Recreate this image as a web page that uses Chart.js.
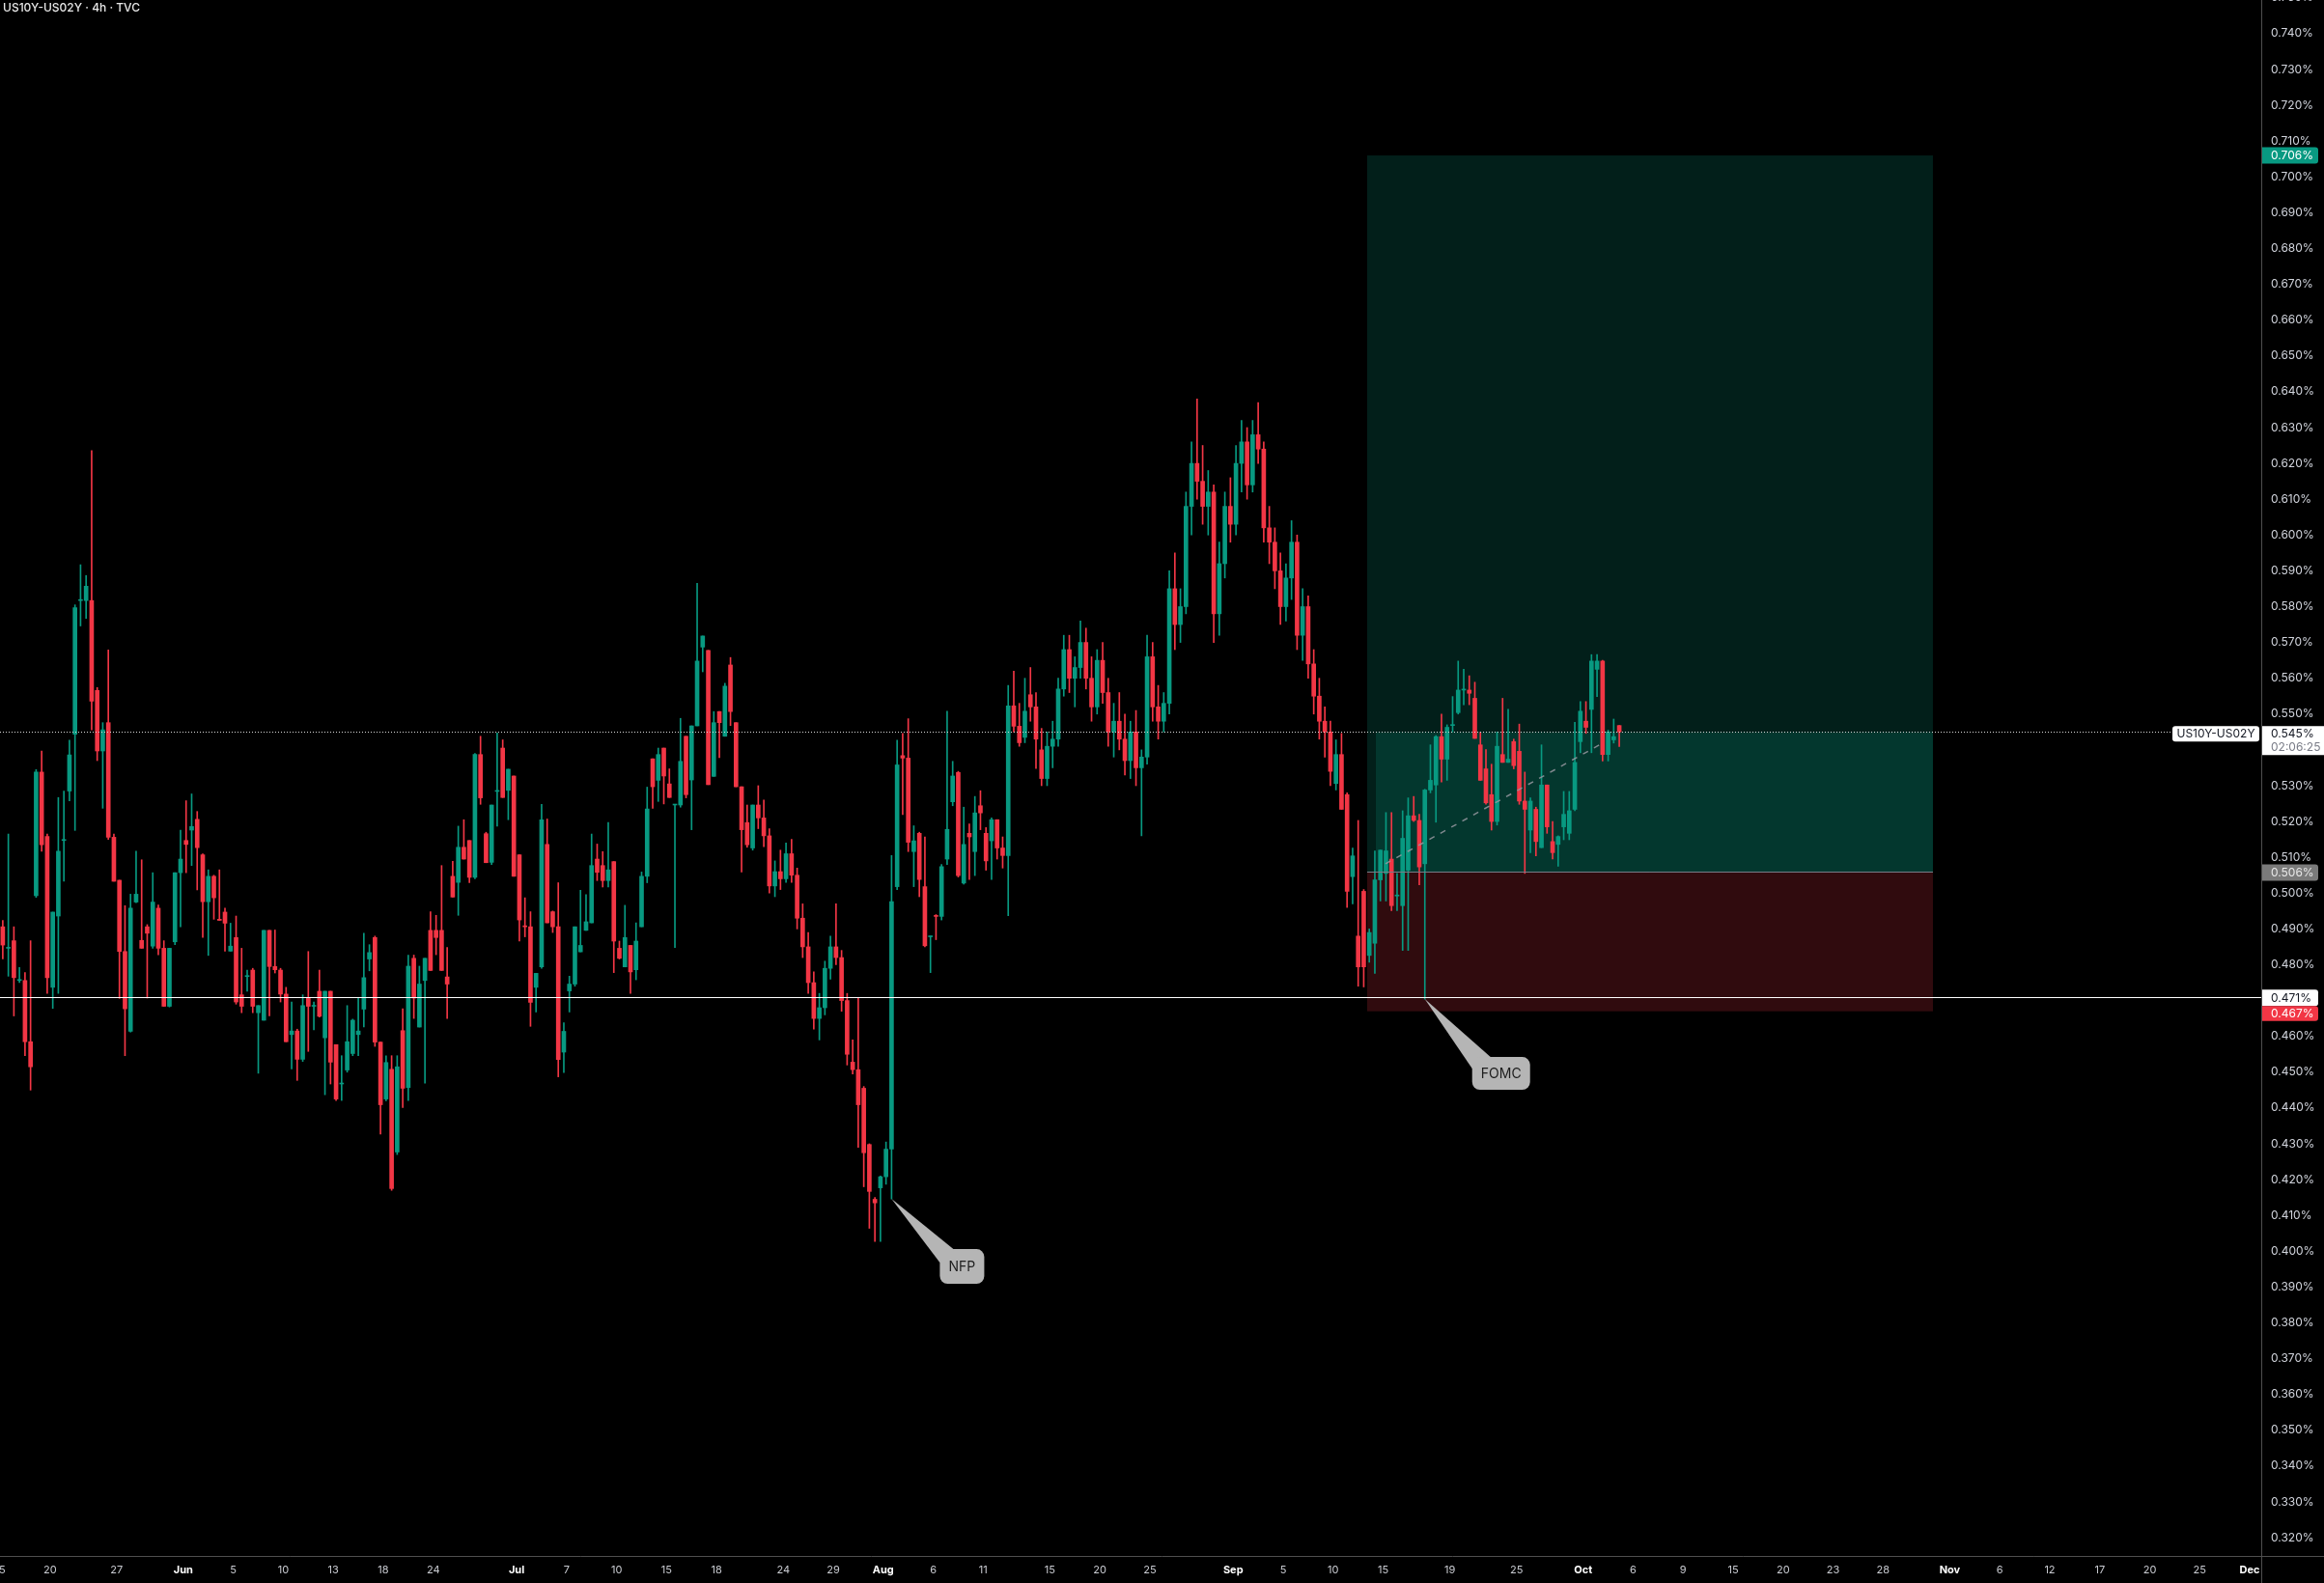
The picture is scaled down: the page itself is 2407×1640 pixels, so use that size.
<!DOCTYPE html>
<html>
<head>
<meta charset="utf-8">
<title>US10Y-US02Y · 4h · TVC</title>
<script src="https://cdn.jsdelivr.net/npm/chart.js@4.4.1/dist/chart.umd.min.js"></script>
<style>
html,body{margin:0;padding:0;background:#000;overflow:hidden}
canvas{display:block}
</style>
</head>
<body>
<canvas id="chart" width="2407" height="1640"></canvas>
<script>
// Spread values in thousandths of a percent (545 = 0.545%), one candle per 8 hours
const opens = [
490.6,484.6,486.7,475.6,475.6,458.5,499.3,533.8,515.8,473.7,
493.6,514.7,528.5,544.4,581.7,581.7,581.7,556.6,539.7,547.6,
515.6,503.6,483.7,461.4,497.5,486.8,490.6,485.2,495.8,484.6,
468.4,486.4,505.7,514.7,517.6,520.6,510.7,497.6,504.7,492.7,
494.7,483.8,487.6,471.6,476.7,478.5,466.6,464.5,489.6,479.5,
478.5,471.8,460.5,461.5,453.6,470.6,468.4,472.6,459.6,472.6,
457.7,446.7,450.6,455.2,460.5,467.6,481.6,487.6,458.4,442.5,
450.8,427.7,461.6,445.7,481.8,462.6,475.6,489.6,489.6,489.6,
476.6,504.7,503.0,512.8,514.7,504.4,538.7,516.6,508.6,528.4,
540.5,528.7,532.7,510.7,490.8,490.6,473.7,479.4,513.6,494.8,
490.6,455.6,472.7,474.6,483.6,489.6,491.7,509.5,507.7,503.5,
508.8,484.6,479.4,485.4,478.6,490.6,504.7,537.5,531.5,540.5,
530.5,524.6,524.6,543.8,531.6,546.7,568.7,567.8,532.6,550.7,
543.8,563.7,547.6,529.7,519.7,512.6,524.6,521,516,502,
506,504,511,505,493,485,475,465,468,479,
485,482,470,452.8,450.7,445.5,429.8,414.5,417.7,420.8,
428.5,501.8,538.4,537.7,511.6,516.7,501.8,487.8,493.7,493.5,
509.5,525.5,533.7,502.8,516.7,511.6,524.4,516.7,514.6,520.5,
512.6,510.5,552.3,546.6,543.5,555.4,552,540,532,541,
543,557,568,560,563,570,560,552,565,556,
545,548,543,537,545,535,538,566,552,548,
553,585,575,580,608,620,615,608,612,578,
592,608,603,620,626,614,628,624,602,598,
590,580,588,598,572,580,564,555,548,545,
530.6,538.7,527.5,504.6,488,500.5,482.6,486,503.7,505.5,
509.5,499.2,496.5,506.4,521.6,520.3,508.2,528.8,530.2,543.7,
537.4,546.8,550.4,556.7,556.7,554.4,541.4,534.7,527.5,520,
538.7,536.5,542.3,539.6,525.7,517.6,523.4,512.7,530.2,514.4,
513.6,518.5,516.7,523.4,542.3,548,551.3,562.5,564.8,538.7,
542.8,546.8
];
const highs = [
492.4,516.5,490.6,479.2,477.8,486.7,534.5,539.7,516.5,494.7,
526.7,528.5,542.7,580.5,591.7,588.7,623.6,557.4,547.6,567.9,
516.5,503.6,496.5,499.7,511.7,509.3,491.2,505.7,496.7,486.7,
484.6,505.7,517.6,525.8,527.7,522.8,511.0,506.5,505.0,506.5,
495.8,491.6,493.6,484.6,478.5,479.0,468.6,489.6,489.6,489.7,
479.0,473.7,469.6,462.0,471.6,483.7,469.6,478.5,472.6,472.6,
457.7,454.6,468.6,464.8,470.6,488.8,485.6,488.0,458.4,454.6,
454.6,454.6,467.7,482.7,482.7,479.6,481.8,494.8,493.8,507.7,
484.8,508.9,518.7,520.5,514.7,539.0,543.8,517.0,524.6,544.7,
542.8,534.6,532.7,510.7,498.7,494.8,477.6,524.8,520.7,495.0,
502.9,463.8,476.8,490.6,500.8,499.6,516.5,513.7,511.6,519.7,
508.8,486.6,496.6,485.4,491.7,505.9,529.6,537.5,540.5,540.5,
534.7,524.6,548.8,543.8,546.7,586.5,571.8,567.8,550.7,550.7,
558.6,565.8,547.6,529.7,524.6,524.6,530,526,518,509,
512,514,515,507,497,489,478,472,481,488,
497,484,472,459,470.8,446,430,415,421,430.5,
510.5,542.7,544.6,548.7,518.8,517,515.7,488,494,508,
550.8,536.8,534,524,519.3,527,528.6,518.3,521,520.5,
515.7,558,562,553,560,563,556,546,545,548,
560,572,572,566,576,574,566,568,570,560,
553,556,550,548,551,540,572,570,558,556,
590,595,585,612,626,638,625,618,614,598,
612,616,625,632,630,632,637,626,608,602,
595,592,604,600,585,583,568,560,552,548,
542.8,544.6,528,512.6,520.3,501,490,511.8,512,522.5,
522.5,505.5,523,526.6,527,522,529,541.4,544,550,
547,554.9,564.8,562.5,560.7,558.9,545,540.1,536,545,
554.4,551.3,543,547.2,533.8,526.6,524,541.4,530.2,520,
516,528.4,528.4,547.7,553.5,553.5,566.6,566.6,565,545.5,
548.6,546.8
];
const lows = [
481.6,476.8,465.7,475.0,454.6,445.0,498.8,511.7,472.0,467.8,
472.0,503.3,525.8,517.5,574.6,576.7,545.6,537.0,523.7,515.0,
503.3,470.6,454.6,461.2,497.3,484.6,470.7,484.6,482.8,468.4,
468.2,485.6,490.6,505.7,507.7,500.9,487.6,482.6,492.7,492.4,
483.8,483.8,469.0,466.6,472.6,466.6,449.7,464.5,465.7,477.7,
469.6,458.5,450.9,447.7,453.0,455.8,461.8,465.4,443.7,446.7,
442.1,442.1,450.0,454.6,454.6,462.6,478.3,457.2,432.7,442.0,
417.0,427.0,440.1,442.1,465.0,462.6,446.9,478.4,482.8,478.4,
465.0,498.9,493.8,509.5,502.9,504.0,524.8,508.5,508.0,518.7,
526.7,520.5,504.7,486.6,487.8,462.8,466.8,479.0,491.7,489.0,
448.7,449.9,466.8,474.0,483.6,489.6,491.7,503.5,501.7,501.7,
477.8,481.6,479.4,472.0,475.8,490.6,502.9,523.7,525.6,524.9,
526.7,484.8,524.0,526.6,517.7,546.7,561.8,530.3,532.6,537.8,
543.8,546.8,529.7,505.9,512.8,512.0,518,513,500,499,
501,503,503,490,482,472,462,459,466,476,
480,467,452,449.5,429,418,406.4,402.7,402.7,418.7,
414.6,501,521.9,511.6,501.8,499,485,477.8,487,492.5,
508,524.4,504.5,502.5,503.8,504.9,517.7,506.4,503.8,509.5,
507,493.7,545,541,542,548,534.8,530,530,535,
541,555,556,552,560,557,548,550,553,541,
538,540,533,532,530,516,536,548,543,545,
550,568,570,578,600,610,603,600,570,572,
588,598,600,612,610,612,620,598,592,585,
575,576,582,568,565,560,550,543,538,530,
528.8,523.4,496,497,474,473.8,480.7,477.6,497.8,497.8,
495.1,495.1,484,484,520,502.3,470.4,528,519.8,531,
531.5,545,550,552.6,552.6,543.2,531.5,524.8,517.6,519,
536.5,537,534.7,524.8,505.5,511.3,510.4,512.7,516.7,509.5,
507.5,514.9,514.9,523,539.2,544.6,539.2,554.9,536.9,536.9,
541.9,540.9
];
const closes = [
485.5,484.6,476.4,475.6,458.5,451.5,533.8,513.5,476.4,494.7,
511.7,514.7,538.6,579.7,581.7,585.7,553.6,539.7,545.6,515.6,
503.3,483.7,467.7,495.8,499.7,484.6,488.8,497.5,484.6,468.4,
484.6,505.7,509.5,513.6,518.6,512.7,497.6,504.7,498.7,492.4,
491.6,485.2,469.6,468.4,476.7,468.4,468.6,489.6,479.5,478.6,
471.8,458.5,461.5,453.6,468.6,468.4,468.6,465.6,472.6,452.8,
442.5,446.7,458.5,464.5,461.5,476.4,483.4,458.4,440.9,452.7,
417.5,451.5,445.5,479.6,470.7,474.6,481.8,478.4,487.6,478.4,
474.6,498.9,512.8,509.5,504.4,538.7,526.6,508.5,524.6,528.5,
526.7,534.6,504.7,492.5,490.6,469.5,477.6,520.5,491.7,490.6,
453.5,461.4,474.6,490.6,485.4,492.0,507.7,505.8,503.5,506.5,
486.6,481.8,487.6,478.0,486.6,504.7,523.5,529.7,538.7,532.7,
526.7,524.6,536.8,527.5,546.7,564.8,571.8,530.3,547.6,547.6,
557.8,550.7,529.7,517.7,513.5,524.6,521,516,502,506,
504,511,505,493,485,475,465,468,479,485,
482,470,455,450.7,440.9,427.5,416.7,413.5,420.8,428.5,
497.6,535.8,537.7,514.2,514.6,503.8,485.3,487.8,493.5,507.4,
517.8,532.7,504.9,513.6,515.7,522.4,522.4,509,520.5,512.6,
510.5,552.3,546.6,542,550.8,552,543,532,541,543,
557,568,560,563,570,560,552,565,556,545,
548,543,537,545,535,538,566,552,548,553,
585,575,580,608,620,615,608,612,578,592,
608,603,620,626,614,628,624,602,598,590,
580,588,598,572,580,564,555,548,545,534,
538.7,523.4,500.5,510.4,479.4,479.4,489,503.7,512,511.8,
496.5,499.2,515.3,521.6,520.3,507.3,528.8,531.5,543.7,537.4,
546.3,546.8,556.7,556.7,555.8,543.2,531.5,525.2,520,541,
536.5,537.4,535.6,525.7,523.4,525.7,514.4,530.2,518.5,511.3,
515.8,522,523,536.5,550.8,546.3,564.8,564.8,538.7,545,
543.7,545
];

// Time axis: trading-day offsets from 2 Sep and their labels
const tickDays = [-74,-71,-67,-63,-60,-57,-54,-51,-48,-43,-40,-37,-34,-31,-27,-24,-21,-18,-15,-11,-8,-5,
                  0,3,6,9,13,17,21,24,27,30,33,36,39,43,46,49,52,55,58,61];
const tickLabels = ['15','20','27','Jun','5','10','13','18','24','Jul','7','10','15','18','24','29','Aug','6','11','15','20','25',
                    'Sep','5','10','15','19','25','Oct','6','9','15','20','23','28','Nov','6','12','17','20','25','Dec'];
const monthLabels = ['Jun','Jul','Aug','Sep','Oct','Nov','Dec'];

// Position tool levels and markers
const targetLevel = 706, entryLevel = 506, stopLevel = 467, supportLevel = 471, lastPrice = 545;
const positionDays = [8.04, 41.99];      // start / end of the long-position box
const positionLiveStart = 8.56;
const trendDash = [[9.14, 508.2], [22.06, 541.6]];
const nfpCandle = 160, fomcCandle = 256;

const FIRST_DAY = -73.8333, STEP_DAY = 1/3;
const X_MIN = -74, X_MAX = 61.69, Y_MIN = 314.9, Y_MAX = 749.4;
const UP = '#089981', DOWN = '#F23645';
const FONT = 'Inter, "Liberation Sans", Arial, sans-serif';

const xsOf = i => FIRST_DAY + i * STEP_DAY;
const candleColors = closes.map((c, i) => c >= opens[i] ? UP : DOWN);
const bodyData = closes.map((c, i) => ({x: xsOf(i), y: [opens[i], c]}));
const wickData = closes.map((c, i) => ({x: xsOf(i), y: [Math.min(lows[i], opens[i], c), Math.max(highs[i], opens[i], c)]}));

const fmt = v => (v / 1000).toFixed(3) + '%';

function rr(ctx, x, y, w, h, r) {
  ctx.beginPath();
  if (ctx.roundRect) ctx.roundRect(x, y, w, h, r); else ctx.rect(x, y, w, h);
}

// pixel extents (above, below) of the price-axis badges, used to hide overlapped tick labels
const badgeBoxes = [[targetLevel, 9, 9], [lastPrice, 7, 24], [entryLevel, 9, 9], [supportLevel, 8, 9], [stopLevel, 2, 11]];

const overlay = {
  id: 'overlay',
  beforeDraw(chart) {
    const c = chart.ctx; c.save(); c.fillStyle = '#000'; c.fillRect(0, 0, chart.width, chart.height); c.restore();
  },
  beforeDatasetsDraw(chart) {
    const {ctx, chartArea: a, scales: {x, y}} = chart;
    ctx.save();
    ctx.beginPath(); ctx.rect(a.left, a.top, a.right - a.left, a.bottom - a.top); ctx.clip();
    const x0 = x.getPixelForValue(positionDays[0]), x1 = x.getPixelForValue(positionDays[1]);
    const xn = x.getPixelForValue(positionLiveStart);
    const yT = y.getPixelForValue(targetLevel), yE = y.getPixelForValue(entryLevel);
    const yS = y.getPixelForValue(stopLevel), yL = y.getPixelForValue(lastPrice);
    ctx.fillStyle = 'rgba(8,153,129,0.2)';
    ctx.fillRect(x0, yT, x1 - x0, yE - yT);
    ctx.fillRect(xn, yL, x1 - xn, yE - yL);
    ctx.fillStyle = 'rgba(242,54,69,0.2)';
    ctx.fillRect(x0, yE, x1 - x0, yS - yE);
    ctx.restore();
  },
  afterDatasetsDraw(chart) {
    const {ctx, chartArea: a, scales: {x, y}} = chart;
    ctx.save();
    ctx.beginPath(); ctx.rect(a.left, a.top, a.right - a.left, a.bottom - a.top); ctx.clip();
    const x0 = x.getPixelForValue(positionDays[0]), x1 = x.getPixelForValue(positionDays[1]);
    const yE = Math.round(y.getPixelForValue(entryLevel)) + 0.5;
    ctx.strokeStyle = '#787b86'; ctx.lineWidth = 1;
    ctx.beginPath(); ctx.moveTo(x0, yE); ctx.lineTo(x1, yE); ctx.stroke();
    ctx.strokeStyle = 'rgba(150,152,160,0.85)'; ctx.lineWidth = 1.5; ctx.setLineDash([6, 7]);
    ctx.beginPath();
    ctx.moveTo(x.getPixelForValue(trendDash[0][0]), y.getPixelForValue(trendDash[0][1]));
    ctx.lineTo(x.getPixelForValue(trendDash[1][0]), y.getPixelForValue(trendDash[1][1]));
    ctx.stroke();
    ctx.setLineDash([]);
    const yS = Math.round(y.getPixelForValue(supportLevel)) + 0.5;
    ctx.strokeStyle = '#ffffff'; ctx.lineWidth = 1.2;
    ctx.beginPath(); ctx.moveTo(a.left, yS); ctx.lineTo(a.right, yS); ctx.stroke();
    const yL = Math.round(y.getPixelForValue(lastPrice)) + 0.5;
    ctx.strokeStyle = '#d8d8d8'; ctx.lineWidth = 1; ctx.setLineDash([1, 2]);
    ctx.beginPath(); ctx.moveTo(a.left, yL); ctx.lineTo(a.right - 92, yL); ctx.stroke();
    ctx.restore();
  },
  afterDraw(chart) {
    const {ctx, chartArea: a, scales: {x, y}} = chart;
    ctx.save();
    ctx.strokeStyle = '#4e4e4e'; ctx.lineWidth = 1;
    ctx.beginPath(); ctx.moveTo(a.right + 0.5, 0); ctx.lineTo(a.right + 0.5, chart.height); ctx.stroke();
    ctx.beginPath(); ctx.moveTo(0, a.bottom + 0.5); ctx.lineTo(chart.width, a.bottom + 0.5); ctx.stroke();

    ctx.fillStyle = '#e6e6e6'; ctx.font = '500 12px ' + FONT; ctx.textBaseline = 'middle'; ctx.textAlign = 'left';
    ctx.fillText('US10Y-US02Y · 4h · TVC', 3, 8);

    const bx = a.right + 1, bw = 58, tx = a.right + 10;
    ctx.font = '12px ' + FONT;
    function badge(v, bg, fg, top, h, w) {
      const py = y.getPixelForValue(v);
      ctx.fillStyle = bg; rr(ctx, bx, py - top, w || bw, h, [0, 3, 3, 0]); ctx.fill();
      ctx.fillStyle = fg; ctx.fillText(fmt(v), tx, py - top + h / 2 + 0.5);
    }
    badge(targetLevel, UP, '#ffffff', 8.5, 17);
    badge(entryLevel, '#7a7a7a', '#e8e8e8', 7.5, 17);
    badge(supportLevel, '#ffffff', '#131722', 7.5, 17);
    const ySup = y.getPixelForValue(supportLevel);
    ctx.fillStyle = DOWN; rr(ctx, bx, ySup + 9.5, bw, 15.5, [0, 3, 3, 0]); ctx.fill();
    ctx.fillStyle = '#ffffff'; ctx.fillText(fmt(stopLevel), tx, ySup + 17.5);
    const yLast = y.getPixelForValue(lastPrice);
    ctx.fillStyle = '#ffffff'; rr(ctx, bx, yLast - 6, chart.width - bx, 30, [0, 0, 0, 0]); ctx.fill();
    ctx.fillStyle = '#131722'; ctx.fillText(fmt(lastPrice), tx, yLast + 2.5);
    ctx.fillStyle = '#787b86'; ctx.fillText('02:06:25', tx, yLast + 16);
    ctx.fillStyle = '#ffffff'; rr(ctx, a.right - 92, yLast - 6, 90, 16, 3); ctx.fill();
    ctx.fillStyle = '#131722'; ctx.textAlign = 'center'; ctx.fillText('US10Y-US02Y', a.right - 47, yLast + 2.5);

    function callout(i, v, text, bx0, by0, bw0, bh0, t1, t2) {
      const ax = x.getPixelForValue(xsOf(i)), ay = y.getPixelForValue(v);
      ctx.fillStyle = '#b5b5b5';
      ctx.beginPath(); ctx.moveTo(ax, ay); ctx.lineTo(ax + t1[0], ay + t1[1]); ctx.lineTo(ax + t2[0], ay + t2[1]); ctx.closePath(); ctx.fill();
      rr(ctx, ax + bx0, ay + by0, bw0, bh0, 8); ctx.fill();
      ctx.fillStyle = '#1e1e1e'; ctx.font = '14px ' + FONT; ctx.textAlign = 'center'; ctx.textBaseline = 'middle';
      ctx.fillText(text, ax + bx0 + bw0 / 2, ay + by0 + bh0 / 2 + 1);
    }
    callout(nfpCandle, lows[nfpCandle], 'NFP', 50, 52, 46, 36, [50, 66], [64, 52]);
    callout(fomcCandle, lows[fomcCandle], 'FOMC', 49, 60, 60, 34, [49, 72], [68, 60]);
    ctx.restore();
  }
};

new Chart(document.getElementById('chart'), {
  type: 'bar',
  data: {
    datasets: [
      {data: bodyData, backgroundColor: candleColors, barThickness: 4, minBarLength: 1, grouped: false, borderWidth: 0},
      {data: wickData, backgroundColor: candleColors, barThickness: 1, grouped: false, borderWidth: 0}
    ]
  },
  options: {
    responsive: false,
    animation: false,
    events: [],
    layout: {padding: 0},
    plugins: {legend: {display: false}, tooltip: {enabled: false}, title: {display: false}},
    scales: {
      x: {
        type: 'linear', min: X_MIN, max: X_MAX, offset: false,
        grid: {display: false, drawTicks: false, offset: false},
        border: {display: false},
        afterBuildTicks: s => { s.ticks = tickDays.map(v => ({value: v})); },
        afterFit: s => { s.height = 28; s.paddingLeft = 0; s.paddingRight = 0; },
        ticks: {
          autoSkip: false, maxRotation: 0, minRotation: 0, padding: 8,
          callback: (v, i) => tickLabels[i],
          color: ctx => monthLabels.includes(tickLabels[ctx.index]) ? '#ffffff' : '#c9cbd1',
          font: ctx => monthLabels.includes(tickLabels[ctx.index])
            ? {family: FONT, size: 11, weight: '700'} : {family: FONT, size: 11, weight: '400'}
        }
      },
      y: {
        type: 'linear', position: 'right', min: Y_MIN, max: Y_MAX,
        grid: {display: false, drawTicks: false},
        border: {display: false},
        afterBuildTicks: s => { s.ticks.push({value: 750}); },
        afterFit: s => { s.width = 65; s.paddingTop = 0; s.paddingBottom = 0; },
        ticks: {
          stepSize: 10, includeBounds: false, padding: 10,
          font: {family: FONT, size: 12},
          callback: v => fmt(v),
          color: ctx => {
            const s = ctx.scale, py = s.getPixelForValue(ctx.tick.value);
            for (const [v, up, down] of badgeBoxes) {
              const by = s.getPixelForValue(v);
              if (py > by - up - 5 && py < by + down + 5) return 'rgba(0,0,0,0)';
            }
            return '#d1d4dc';
          }
        }
      }
    }
  },
  plugins: [overlay]
});
</script>
</body>
</html>
